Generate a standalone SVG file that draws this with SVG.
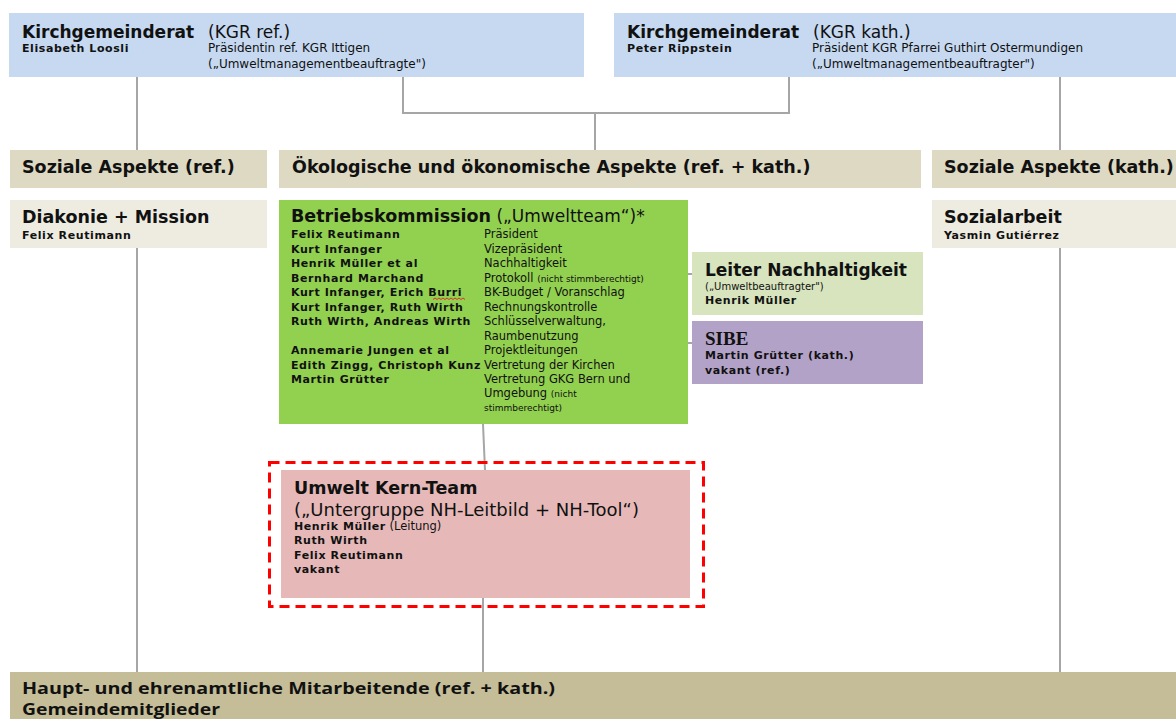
<svg xmlns="http://www.w3.org/2000/svg" width="1176" height="719" viewBox="0 0 1176 719">
<style>
text{font-family:"DejaVu Sans",Verdana,sans-serif;fill:#111;}
.t{font-size:17.5px;font-weight:bold;}
.tr{font-size:17px;font-weight:normal;}
.n{font-size:11px;font-weight:bold;letter-spacing:0.6px;}
.r{font-size:11.5px;}
.r2{font-size:12px;}
.s{font-size:9px;}
.line{stroke:#a6a6a6;stroke-width:2;fill:none;}
.kgr{fill:#c6d9f1;}
.asp{fill:#ddd9c3;}
.sub{fill:#eeece1;}
.b{font-family:"Open Sans",sans-serif;font-weight:700;font-size:16.5px;}
</style>
<rect width="1176" height="719" fill="#ffffff"/>
<g id="connectors">
<path class="line" d="M137 77V150"/>
<path class="line" d="M403 77V113H789V77"/>
<path class="line" d="M595 113V150"/>
<path class="line" d="M1060 77V150"/>
<path class="line" d="M137 248V672"/>
<path class="line" d="M1060 248V672"/>
<path class="line" d="M483 424L485 470"/>
<path class="line" d="M483 598V672"/>
<path class="line" d="M688 274H692"/>
<path class="line" d="M688 343H692"/>
</g>
<g id="kgr-ref">
<rect class="kgr" x="9" y="13" width="575" height="64"/>
<text x="22" y="38" class="t" style="font-size:17px">Kirchgemeinderat</text>
<text x="208" y="38" class="tr">(KGR ref.)</text>
<text x="22" y="52" class="n">Elisabeth Loosli</text>
<text x="208" y="52" class="r2">Präsidentin ref. KGR Ittigen</text>
<text x="208" y="68" class="r2">(„Umweltmanagementbeauftragte")</text>
</g>
<g id="kgr-kath">
<rect class="kgr" x="614" y="13" width="570" height="64"/>
<text x="627" y="38" class="t" style="font-size:17px">Kirchgemeinderat</text>
<text x="813" y="38" class="tr">(KGR kath.)</text>
<text x="627" y="52" class="n">Peter Rippstein</text>
<text x="812" y="52" class="r2">Präsident KGR Pfarrei Guthirt Ostermundigen</text>
<text x="812" y="68" class="r2">(„Umweltmanagementbeauftragter")</text>
</g>
<g id="soz-ref">
<rect class="asp" x="10" y="150" width="257" height="38"/>
<text x="22" y="173" class="t">Soziale Aspekte (ref.)</text>
</g>
<g id="oeko">
<rect class="asp" x="279" y="150" width="642" height="38"/>
<text x="292" y="173" class="t">Ökologische und ökonomische Aspekte (ref. + kath.)</text>
</g>
<g id="soz-kath">
<rect class="asp" x="932" y="150" width="250" height="38"/>
<text x="944" y="173" class="t">Soziale Aspekte (kath.)</text>
</g>
<g id="diakonie">
<rect class="sub" x="10" y="200" width="257" height="48"/>
<text x="22" y="223" class="t">Diakonie + Mission</text>
<text x="22" y="239" class="n">Felix Reutimann</text>
</g>
<g id="sozialarbeit">
<rect class="sub" x="932" y="200" width="250" height="48"/>
<text x="944" y="223" class="t">Sozialarbeit</text>
<text x="944" y="239" class="n">Yasmin Gutiérrez</text>
</g>
<g id="betriebskommission">
<rect x="279" y="200" width="409" height="224" fill="#92d050"/>
<text x="291" y="222"><tspan class="t">Betriebskommission</tspan><tspan class="tr"> („Umweltteam“)*</tspan></text>
<g class="n">
<text x="291" y="238">Felix Reutimann</text>
<text x="291" y="253">Kurt Infanger</text>
<text x="291" y="267">Henrik Müller et al</text>
<text x="291" y="282">Bernhard Marchand</text>
<text x="291" y="296">Kurt Infanger, Erich Burri</text>
<text x="291" y="311">Kurt Infanger, Ruth Wirth</text>
<text x="291" y="325">Ruth Wirth, Andreas Wirth</text>
<text x="291" y="354">Annemarie Jungen et al</text>
<text x="291" y="369">Edith Zingg, Christoph Kunz</text>
<text x="291" y="383">Martin Grütter</text>
</g>
<g class="r">
<text x="484" y="238">Präsident</text>
<text x="484" y="253">Vizepräsident</text>
<text x="484" y="267">Nachhaltigkeit</text>
<text x="484" y="282">Protokoll <tspan class="s">(nicht stimmberechtigt)</tspan></text>
<text x="484" y="296">BK-Budget / Voranschlag</text>
<text x="484" y="311">Rechnungskontrolle</text>
<text x="484" y="325">Schlüsselverwaltung,</text>
<text x="484" y="340">Raumbenutzung</text>
<text x="484" y="354">Projektleitungen</text>
<text x="484" y="369">Vertretung der Kirchen</text>
<text x="484" y="383">Vertretung GKG Bern und</text>
<text x="484" y="397">Umgebung <tspan class="s">(nicht</tspan></text>
<text x="484" y="411" class="s">stimmberechtigt)</text>
</g>
<path d="M433 299.5l2 -1.5l2 1.5l2 -1.5l2 1.5l2 -1.5l2 1.5l2 -1.5l2 1.5l2 -1.5l2 1.5l2 -1.5l2 1.5l2 -1.5l2 1.5l2 -1.5l2 1.5" stroke="#e03030" stroke-width="1" fill="none"/>
</g>
<g id="leiter">
<rect x="692" y="252" width="231" height="63" fill="#d7e4bd"/>
<text x="705" y="276" class="t" style="font-size:17px">Leiter Nachhaltigkeit</text>
<text x="705" y="290" style="font-size:10px">(„Umweltbeauftragter")</text>
<text x="705" y="304" class="n">Henrik Müller</text>
</g>
<g id="sibe">
<rect x="692" y="321" width="231" height="63" fill="#b3a2c7"/>
<text x="705" y="345" style="font-family:'Liberation Serif',serif;font-size:19px;font-weight:bold">SIBE</text>
<text x="705" y="359" class="n">Martin Grütter (kath.)</text>
<text x="705" y="374" class="n">vakant (ref.)</text>
</g>
<g id="kern-team">
<rect x="269.5" y="462.5" width="434" height="144" fill="none" stroke="#ff0000" stroke-width="3" stroke-dasharray="10 6"/>
<rect x="281" y="470" width="409" height="128" fill="#e6b9b8"/>
<text x="294" y="494" class="t">Umwelt Kern-Team</text>
<text x="294" y="516" style="font-size:18px">(„Untergruppe NH-Leitbild + NH-Tool“)</text>
<text x="294" y="530"><tspan class="n">Henrik Müller</tspan><tspan class="r"> (Leitung)</tspan></text>
<text x="294" y="544" class="n">Ruth Wirth</text>
<text x="294" y="559" class="n">Felix Reutimann</text>
<text x="294" y="573" class="n">vakant</text>
</g>
<g id="mitarbeitende">
<rect x="10" y="672" width="1172" height="50" fill="#c4bd97"/>
<text x="22" y="694" class="b" textLength="533" lengthAdjust="spacingAndGlyphs">Haupt- und ehrenamtliche Mitarbeitende (ref. + kath.)</text>
<text x="22" y="715" class="b" textLength="198" lengthAdjust="spacingAndGlyphs">Gemeindemitglieder</text>
</g>
</svg>
